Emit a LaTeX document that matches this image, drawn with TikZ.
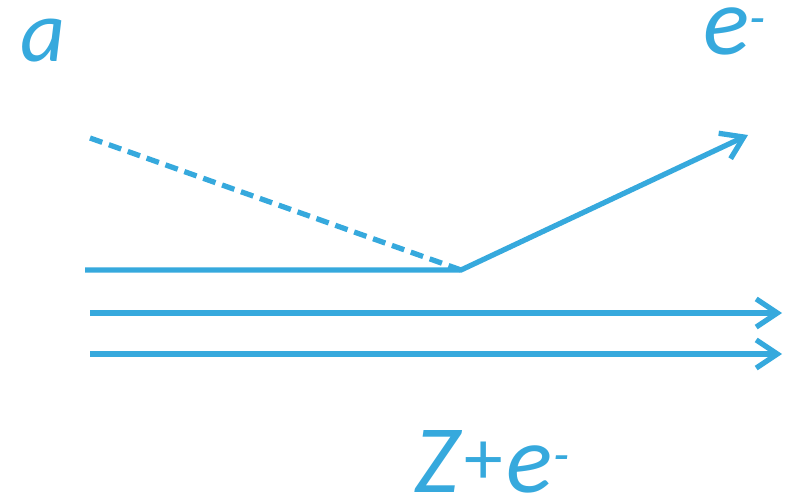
\documentclass[tikz,border=0pt]{standalone}
\usepackage{fontspec}
\setmainfont{Carlito}
\usetikzlibrary{arrows.meta}
\definecolor{cBlue}{HTML}{36A9DD}

\begin{document}
\begin{tikzpicture}[
    x=0.02cm, y=-0.02cm,
    % --- Line styles ---
    track/.style={line width=3pt, draw=cBlue},
    arr/.style={track, -{Straight Barb[length=12pt, width=16pt]}},
    dsh/.style={track, dash pattern=on 7.4pt off 4pt},
    % --- Label styles ---
    lbl/.style={font=\fontsize{50}{60}\selectfont\itshape, text=cBlue,
        inner sep=0pt, text height=1ex, text depth=0pt},
    elbl/.style={lbl, font=\fontsize{55}{60}\selectfont\itshape},
]
\useasboundingbox (0,0) rectangle (786,496);

% =============================================
% LABELS
% =============================================
\node[lbl, anchor=base] (alab) at (43, 62) {a};
\node[elbl, anchor=base west] (elab) at (703, 55) {e\raisebox{11pt}{\fontsize{30}{30}\selectfont-}};
\node[elbl, anchor=base west] (zlab) at (414, 492)
    {Z\hspace{3pt}\raisebox{4pt}{\fontsize{44}{44}\selectfont\upshape+}\hspace{2pt}e\raisebox{11pt}{\fontsize{30}{30}\selectfont-}};

% =============================================
% POINTS
% =============================================
\coordinate (dstart) at (90, 138);
\coordinate (lstart) at (85, 270);
\coordinate (kink)   at (461, 270);
\coordinate (etip)   at (748, 135);
\coordinate (r1s) at (90, 313);
\coordinate (r1e) at (782, 313);
\coordinate (r2s) at (90, 354);
\coordinate (r2e) at (782, 354);

% =============================================
% LINES
% =============================================
\draw[dsh] (dstart) -- (kink);
\draw[arr] (lstart) -- (kink) -- (etip);
\draw[arr] (r1s) -- (r1e);
\draw[arr] (r2s) -- (r2e);

\end{tikzpicture}
\end{document}
